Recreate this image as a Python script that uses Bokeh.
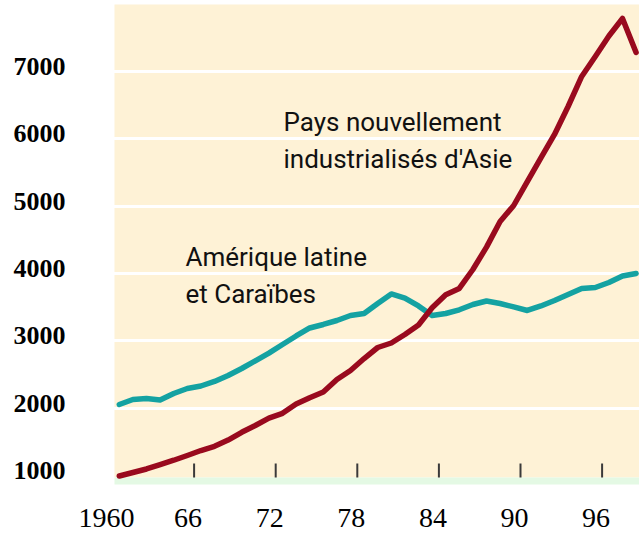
from bokeh.plotting import figure
from bokeh.models import BoxAnnotation, Range1d
from bokeh.core.properties import value
from bokeh.embed import file_html
from bokeh.resources import INLINE

# ---- data (annual values, plotted at mid-year) ----
years = list(range(1960, 1999))
asie = [990, 1042, 1094, 1160, 1224, 1294, 1368, 1431, 1524, 1639,
        1740, 1850, 1921, 2059, 2153, 2238, 2423, 2557, 2735, 2899,
        2966, 3092, 3233, 3489, 3682, 3776, 4058, 4391, 4771, 5009,
        5365, 5715, 6064, 6480, 6926, 7223, 7527, 7788, 7282]
amerique = [2052, 2126, 2141, 2119, 2215, 2290, 2327, 2394, 2483, 2587,
            2701, 2816, 2943, 3070, 3189, 3241, 3300, 3374, 3404, 3553,
            3694, 3631, 3516, 3374, 3404, 3459, 3538, 3590, 3553, 3502,
            3449, 3516, 3597, 3686, 3776, 3790, 3865, 3961, 3998]
x_ticks = [1960, 1966, 1972, 1978, 1984, 1990, 1996]
x_tick_labels = ["1960", "66", "72", "78", "84", "90", "96"]
y_ticks = [1000, 2000, 3000, 4000, 5000, 6000, 7000]
y_tick_labels = ["1000", "2000", "3000", "4000", "5000", "6000", "7000"]
y_grid = [2000, 3000, 4000, 5000, 6000, 7000]
label_asie = ["Pays nouvellement", "industrialisés d'Asie"]
label_amerique = ["Amérique latine", "et Caraïbes"]

# ---- styling ----
RED = "#990A1E"
TEAL = "#14A2A2"
CREAM = "#FEF2D6"
GREEN = "#E4F9E4"
W, H = 639, 535

# pixel <-> data helpers (layout only)
PX_PER_YEAR = 13.6
X_AT_PX0 = 1960 - 112 / PX_PER_YEAR
UNITS_PER_PX = 1000 / 67.3
Y_AT_PX0 = 7000 + 71 * UNITS_PER_PX


def px_x(px):
    return X_AT_PX0 + px / PX_PER_YEAR


def px_y(py):
    return Y_AT_PX0 - py * UNITS_PER_PX


p = figure(width=W, height=H, output_backend="svg", toolbar_location=None,
           x_range=Range1d(px_x(0), px_x(W)), y_range=Range1d(px_y(H), px_y(0)),
           min_border=0)
p.xaxis.visible = False
p.yaxis.visible = False
p.grid.visible = False
p.outline_line_color = None
p.background_fill_color = "white"
p.border_fill_color = "white"

# cream plotting area and light green base strip
p.add_layout(BoxAnnotation(left=px_x(114), top=px_y(4), bottom=px_y(477),
                           fill_color=CREAM, fill_alpha=1, line_color=None,
                           level="underlay"))
p.add_layout(BoxAnnotation(left=px_x(114), top=px_y(477), bottom=px_y(484),
                           fill_color=GREEN, fill_alpha=1, line_color=None,
                           level="underlay"))

# white horizontal grid lines
p.hspan(y=y_grid, line_color="white", line_width=3)

# tick marks inside the plotting area
tick_in = [t for t in x_ticks if t > px_x(114)]
p.segment(x0=tick_in, x1=tick_in, y0=[px_y(477)] * len(tick_in),
          y1=[px_y(463)] * len(tick_in), line_color="#3a3a3a", line_width=2)

# data lines
xs = [y + 0.5 for y in years]
p.line(xs, amerique, line_color=TEAL, line_width=5.5,
       line_join="round", line_cap="round")
p.line(xs, asie, line_color=RED, line_width=5.5,
       line_join="round", line_cap="round")

# x tick labels
p.text(x=x_ticks, y=[px_y(517)] * len(x_ticks), text=x_tick_labels,
       text_font=value("Liberation Serif"), text_font_size="28px",
       text_align="center", text_baseline="alphabetic", text_color="black",
       x_offset=-6)

# y tick labels
p.text(x=[px_x(65)] * len(y_ticks), y=y_ticks, text=y_tick_labels,
       text_font=value("Liberation Serif"), text_font_style="bold",
       text_font_size="26px", text_align="right", text_baseline="middle",
       text_color="black", y_offset=-5)

# series annotations
FONT = value("Roboto")
p.text(x=[px_x(283)] * 2, y=[px_y(121), px_y(158.5)], text=label_asie,
       text_font=FONT, text_font_size="26px", text_color="#111111",
       text_baseline="alphabetic", text_align="left")
p.text(x=[px_x(185)] * 2, y=[px_y(256.5), px_y(293.5)], text=label_amerique,
       text_font=FONT, text_font_size="26px", text_color="#111111",
       text_baseline="alphabetic", text_align="left")

open("out.html", "w").write(file_html(p, INLINE))
